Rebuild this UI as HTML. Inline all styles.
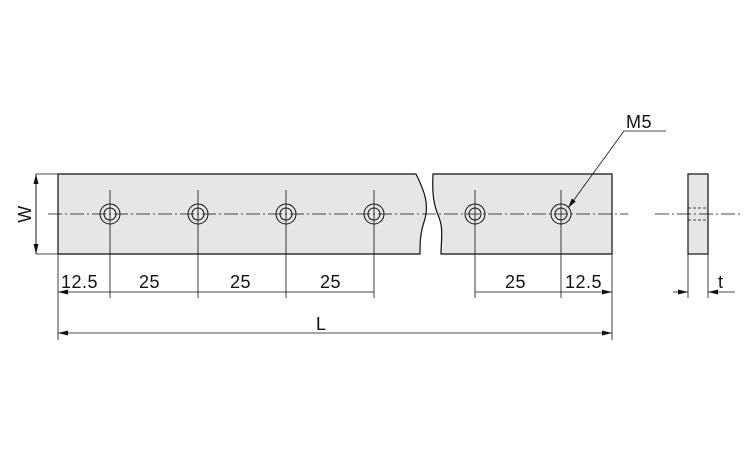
<!DOCTYPE html><html><head><style>body{margin:0;background:#fff}svg{display:block}text{font-family:"Liberation Sans",sans-serif;font-size:18px;fill:#111;letter-spacing:0.5px}</style></head><body>
<svg width="750" height="450" viewBox="0 0 750 450">
<defs><marker id="a" markerWidth="10" markerHeight="6" refX="10" refY="3" orient="auto-start-reverse" markerUnits="userSpaceOnUse"><path d="M0,0.5L10,3L0,5.5z" fill="#111"/></marker></defs>
<g stroke="#111" stroke-width="1.2" fill="#e6e6e6">
<path d="M58,174H416C424,190 430,205 424,222C420,234 420,244 420,254H58Z"/>
<path d="M433,174H612V254H441C441,240 444,228 438,215C434,205 432,195 433,174Z"/>
<rect x="688" y="174" width="20" height="80"/>
</g>
<g stroke="#111" stroke-width="0.8" fill="none">
<path d="M48,214H628M655,214H740" stroke-dasharray="14,3,2,3"/>
<path d="M688,208H708M688,220H708" stroke-dasharray="3,2"/>
<g stroke-width="1">
<circle cx="110" cy="214" r="10"/><circle cx="110" cy="214" r="6"/>
<circle cx="198" cy="214" r="10"/><circle cx="198" cy="214" r="6"/>
<circle cx="286" cy="214" r="10"/><circle cx="286" cy="214" r="6"/>
<circle cx="374" cy="214" r="10"/><circle cx="374" cy="214" r="6"/>
<circle cx="475" cy="214" r="10"/><circle cx="475" cy="214" r="6"/>
<circle cx="561" cy="214" r="10"/><circle cx="561" cy="214" r="6"/>
</g>
<path d="M110,190V298M198,190V298M286,190V298M374,190V298M475,190V298M561,190V298M58,254V340M612,254V340M688,254V298M708,254V298M36,174H58M36,254H58"/>
<path d="M58,292H110M110,292H198M198,292H286M286,292H374M475,292H561M561,292H612" marker-start="url(#a)" marker-end="url(#a)"/>
<path d="M58,333H612" marker-start="url(#a)" marker-end="url(#a)"/>
<path d="M36,174V254" marker-start="url(#a)" marker-end="url(#a)"/>
<path d="M673,292H688" marker-end="url(#a)"/><path d="M735,292H708" marker-end="url(#a)"/>
<path d="M666,131H624L568,208" marker-end="url(#a)"/>
<path d="M36,174V254"/>
</g>
<text x="61" y="288">12.5</text><text x="139" y="288">25</text><text x="230" y="288">25</text><text x="320" y="288">25</text><text x="505" y="288">25</text><text x="565" y="288">12.5</text>
<text x="316" y="330">L</text><text x="718" y="288">t</text><text x="626" y="128">M5</text>
<text transform="translate(31,214) rotate(-90)" text-anchor="middle">W</text>
</svg></body></html>
